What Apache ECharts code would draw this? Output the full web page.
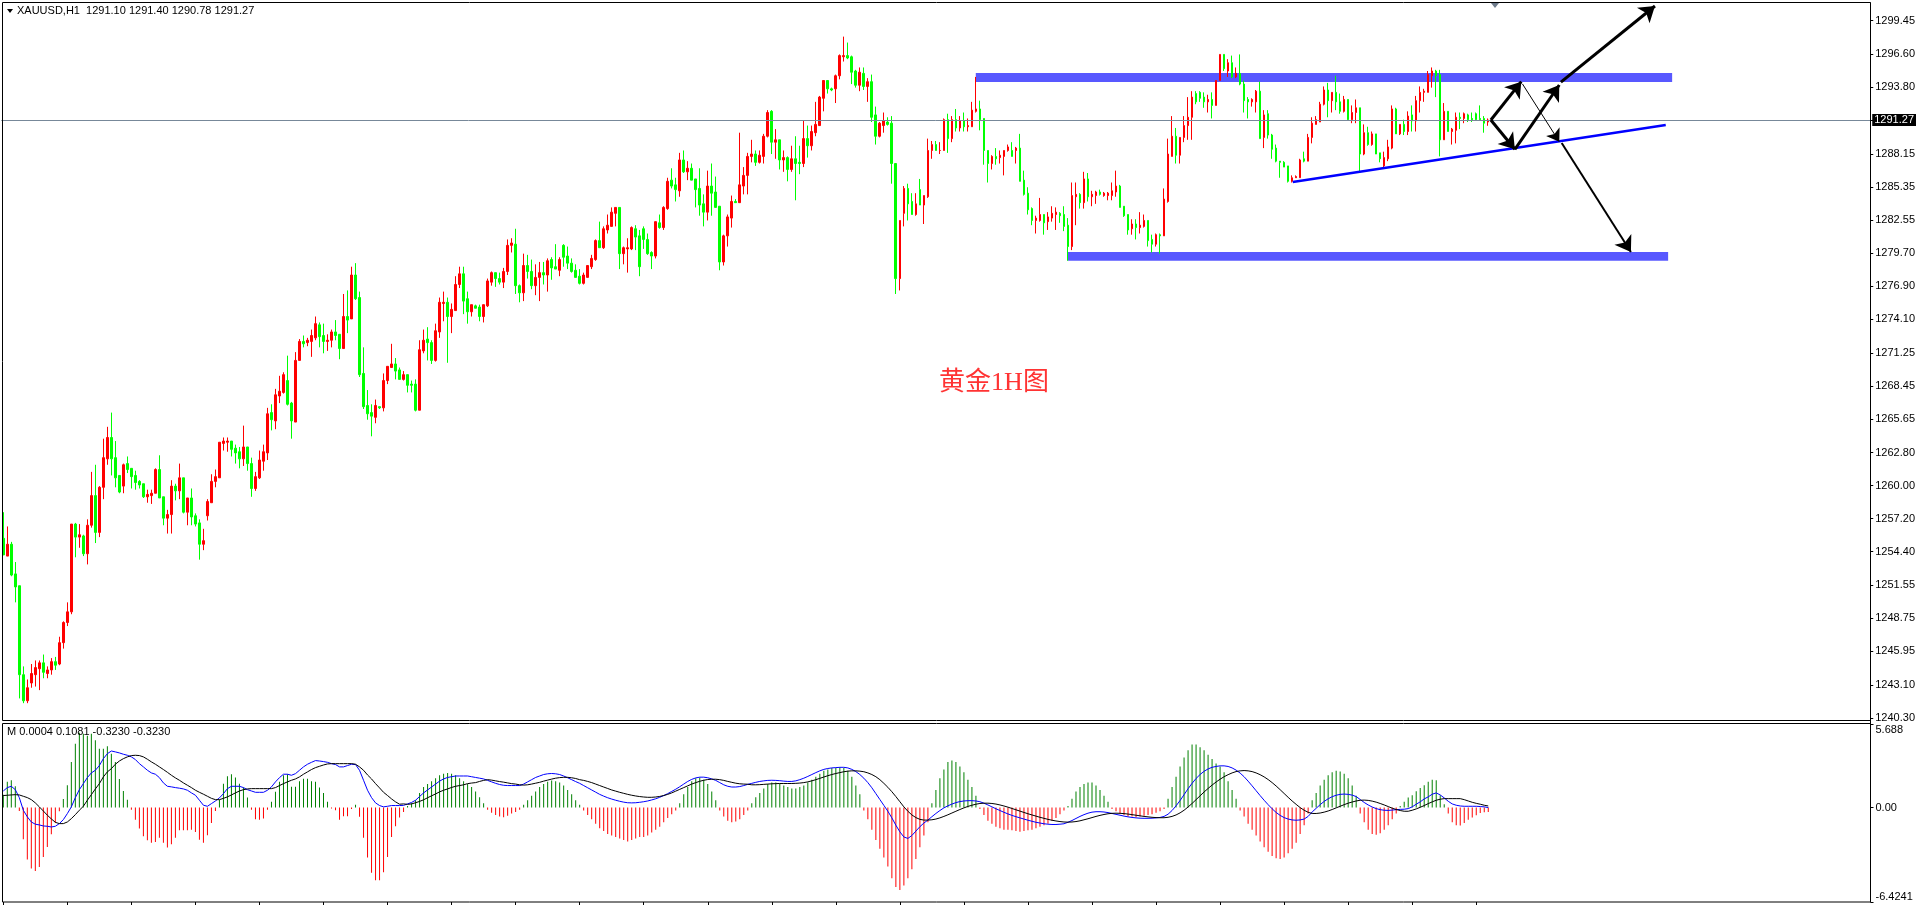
<!DOCTYPE html>
<html>
<head>
<meta charset="utf-8">
<title>XAUUSD H1</title>
<script src="https://cdn.jsdelivr.net/npm/echarts@6/dist/echarts.min.js"></script>
<style>
  html, body { margin: 0; padding: 0; background: #fff; }
  #chart { width: 1918px; height: 906px; }
</style>
</head>
<body>
<div id="chart"></div>
<script>
// texts
const symbolTitle = 'XAUUSD,H1  1291.10 1291.40 1290.78 1291.27';
const macdTitle = 'M 0.0004 0.1081 -0.3230 -0.3230';
const chartLabel = '黄金1H图';
const lastPrice = 1291.27;

// right axis tick labels
const priceTicks = [1240.30, 1243.10, 1245.95, 1248.75, 1251.55, 1254.40, 1257.20, 1260.00, 1262.80, 1265.65, 1268.45,
  1271.25, 1274.10, 1276.90, 1279.70, 1282.55, 1285.35, 1288.15, 1291.00, 1293.80, 1296.60, 1299.45];
const macdTicks = [-6.4241, 0, 5.688];
const macdTickLabels = ['-6.4241', '0.00', '5.688'];

// hourly bars: [open, high, low, close]
const bars = [
  [1256.0,1258.2,1254.6,1254.6],[1254.5,1257.0,1254.5,1255.5],[1255.5,1255.7,1252.8,1252.9],[1253.0,1254.0,1250.6,1251.9],
  [1252.0,1252.0,1242.5,1244.5],[1244.5,1245.2,1242.1,1242.3],[1242.3,1244.1,1242.1,1243.4],[1243.8,1245.4,1243.4,1244.6],
  [1244.5,1245.7,1243.5,1245.1],[1245.0,1245.7,1243.2,1245.5],[1245.5,1246.2,1244.2,1244.7],[1244.6,1245.2,1244.2,1244.9],
  [1244.9,1245.9,1244.5,1245.6],[1245.6,1246.0,1244.9,1245.3],[1245.4,1247.7,1245.3,1247.2],[1247.2,1249.0,1246.7,1248.9],
  [1248.9,1250.6,1248.6,1249.8],[1249.8,1257.2,1249.6,1257.2],[1257.2,1257.3,1254.4,1256.1],[1256.1,1257.2,1255.2,1256.3],
  [1256.2,1256.3,1254.5,1254.7],[1254.7,1257.6,1253.8,1257.1],[1257.1,1261.6,1256.9,1259.6],[1259.6,1262.2,1255.6,1256.5],
  [1256.5,1260.4,1256.1,1260.3],[1260.3,1264.4,1259.3,1262.8],[1262.7,1265.4,1262.2,1264.5],[1264.5,1266.6,1261.3,1262.7],
  [1262.8,1264.2,1260.3,1261.1],[1261.3,1261.3,1259.8,1259.9],[1260.4,1262.3,1259.8,1262.2],[1262.3,1262.9,1261.5,1261.8],
  [1261.9,1261.9,1260.2,1261.2],[1261.3,1261.7,1260.1,1260.7],[1260.8,1260.9,1260.2,1260.5],[1260.6,1260.6,1259.4,1259.5],
  [1259.5,1260.1,1259.0,1259.7],[1259.6,1260.1,1258.9,1259.8],[1259.8,1261.9,1259.8,1261.8],[1261.8,1263.0,1259.4,1259.4],
  [1259.5,1259.5,1257.1,1257.7],[1257.7,1258.4,1256.4,1258.0],[1258.0,1260.9,1256.4,1260.4],[1260.4,1260.6,1259.2,1260.0],
  [1260.0,1262.3,1259.3,1261.1],[1261.1,1261.1,1258.1,1258.2],[1258.2,1259.4,1257.1,1259.4],[1259.4,1260.2,1257.1,1257.8],
  [1257.9,1258.1,1257.0,1257.2],[1257.3,1257.6,1254.2,1255.5],[1255.5,1256.8,1255.0,1255.8],[1257.9,1259.3,1257.5,1259.1],
  [1259.0,1261.4,1259.0,1260.8],[1260.8,1261.8,1260.3,1261.2],[1261.1,1264.1,1261.1,1264.1],[1264.0,1264.5,1263.4,1264.2],
  [1264.1,1264.5,1263.3,1264.2],[1264.2,1264.2,1262.9,1263.5],[1263.6,1263.9,1262.3,1263.2],[1263.3,1263.7,1261.9,1262.7],
  [1262.7,1265.5,1262.1,1263.7],[1263.7,1263.7,1261.7,1262.3],[1262.3,1262.8,1259.5,1260.2],[1260.2,1261.6,1260.0,1261.2],
  [1261.1,1263.4,1261.0,1262.6],[1262.5,1263.9,1261.7,1263.3],[1263.2,1267.0,1262.6,1266.5],[1266.6,1267.3,1265.1,1266.0],
  [1265.9,1268.6,1265.2,1268.1],[1268.0,1269.7,1267.4,1268.4],[1268.3,1270.0,1268.2,1269.8],[1269.3,1271.4,1267.2,1267.3],
  [1267.4,1267.5,1264.4,1265.9],[1265.8,1271.7,1265.8,1271.0],[1271.0,1272.8,1271.0,1272.6],[1272.6,1273.1,1272.1,1272.4],
  [1272.5,1272.9,1272.2,1272.7],[1272.6,1273.6,1271.3,1273.1],[1272.9,1274.7,1272.7,1274.1],[1274.0,1274.2,1272.1,1273.0],
  [1273.1,1274.1,1271.6,1272.6],[1272.6,1273.2,1271.8,1272.7],[1272.7,1273.6,1272.1,1273.4],[1273.4,1274.4,1272.7,1273.1],
  [1273.2,1273.2,1271.1,1272.0],[1272.0,1276.6,1272.0,1274.7],[1274.7,1276.9,1273.3,1274.4],[1274.5,1278.9,1274.5,1278.2],
  [1278.2,1279.2,1276.1,1276.2],[1276.3,1276.8,1269.6,1269.8],[1269.9,1272.1,1266.9,1267.1],[1267.2,1268.5,1266.0,1266.5],
  [1266.6,1267.3,1264.6,1266.3],[1266.2,1267.7,1265.7,1267.2],[1267.1,1267.1,1266.9,1267.0],[1267.0,1269.9,1266.7,1269.3],
  [1269.3,1270.5,1269.0,1270.5],[1270.4,1272.4,1270.4,1270.7],[1270.7,1271.2,1269.4,1270.1],[1270.2,1270.4,1269.4,1269.4],
  [1269.4,1270.1,1269.3,1269.8],[1269.8,1269.8,1268.3,1268.9],[1269.0,1269.3,1268.3,1268.9],[1269.0,1269.4,1266.7,1266.8],
  [1266.8,1272.7,1266.8,1271.9],[1271.8,1273.6,1271.6,1272.7],[1272.8,1273.8,1271.0,1272.5],[1272.5,1272.7,1270.7,1271.0],
  [1271.0,1274.1,1270.9,1273.5],[1273.4,1276.3,1272.9,1275.9],[1275.8,1276.8,1274.3,1275.9],[1275.9,1276.3,1270.8,1274.7],
  [1274.7,1275.8,1273.3,1275.3],[1275.2,1278.1,1275.2,1277.4],[1277.4,1278.9,1277.1,1278.3],[1278.3,1278.9,1274.9,1276.0],
  [1276.2,1276.8,1274.1,1275.1],[1275.1,1275.7,1274.7,1275.7],[1275.6,1275.7,1275.4,1275.4],[1275.5,1275.7,1274.3,1274.7],
  [1274.7,1275.7,1274.2,1275.7],[1275.6,1277.9,1275.5,1277.7],[1277.6,1278.5,1277.3,1278.4],[1278.4,1278.4,1277.2,1277.9],
  [1277.9,1278.4,1277.4,1277.6],[1277.6,1278.8,1277.1,1278.5],[1278.5,1281.2,1278.2,1280.7],[1280.7,1281.3,1280.1,1280.9],
  [1280.8,1282.1,1276.6,1277.3],[1277.3,1277.4,1275.9,1276.7],[1276.7,1280.0,1276.0,1279.0],[1279.0,1279.9,1277.9,1278.5],
  [1278.5,1279.5,1277.0,1277.3],[1277.3,1279.1,1276.5,1278.0],[1278.0,1279.3,1276.0,1278.4],[1278.4,1279.3,1277.4,1278.2],
  [1278.2,1279.6,1276.8,1279.4],[1279.5,1279.7,1277.8,1278.8],[1278.9,1280.8,1278.7,1278.7],[1278.6,1279.7,1278.1,1279.5],
  [1280.7,1280.8,1278.9,1279.7],[1279.8,1280.6,1278.7,1279.2],[1279.2,1279.6,1278.4,1278.5],[1278.6,1279.1,1278.0,1278.0],
  [1278.1,1278.7,1277.4,1277.5],[1277.5,1278.4,1277.4,1278.2],[1278.0,1279.0,1278.0,1279.0],[1278.9,1279.9,1278.7,1279.6],
  [1279.5,1281.2,1279.4,1281.1],[1281.1,1282.7,1280.5,1280.5],[1280.5,1282.3,1280.4,1282.1],[1282.0,1283.3,1281.7,1282.4],
  [1282.3,1283.9,1282.3,1283.5],[1283.4,1283.9,1282.3,1283.9],[1283.9,1283.9,1278.7,1280.0],[1280.0,1280.6,1279.1,1280.5],
  [1280.4,1281.3,1278.4,1280.5],[1280.4,1282.3,1280.3,1282.2],[1282.1,1282.4,1280.3,1281.4],[1281.5,1282.0,1278.1,1278.9],
  [1282.1,1282.3,1280.4,1281.2],[1281.2,1281.7,1279.9,1280.0],[1280.1,1280.2,1278.7,1279.8],[1279.8,1282.7,1279.6,1282.7],
  [1282.6,1283.3,1282.1,1282.2],[1282.2,1284.0,1282.0,1283.9],[1283.8,1286.4,1283.7,1286.1],[1286.2,1287.2,1285.5,1285.7],
  [1285.8,1286.4,1284.4,1285.4],[1285.3,1288.5,1284.8,1287.9],[1287.9,1288.7,1286.8,1286.9],[1286.9,1287.8,1286.2,1287.2],
  [1287.2,1287.6,1286.2,1286.2],[1286.3,1286.3,1283.9,1285.4],[1285.5,1287.2,1283.2,1284.1],[1284.2,1285.0,1282.3,1283.5],
  [1283.5,1287.0,1282.8,1285.7],[1285.7,1287.6,1283.2,1285.1],[1285.2,1286.5,1283.9,1283.9],[1284.0,1284.0,1278.6,1279.3],
  [1279.3,1281.6,1279.0,1281.5],[1281.5,1283.3,1280.6,1283.1],[1283.0,1284.9,1282.2,1284.4],[1284.4,1284.6,1284.3,1284.3],
  [1284.3,1290.2,1284.3,1285.8],[1285.7,1287.3,1285.0,1286.6],[1286.6,1288.5,1285.0,1288.2],[1288.2,1289.6,1287.7,1288.4],
  [1288.4,1288.7,1287.4,1287.7],[1287.7,1288.7,1287.6,1288.3],[1288.2,1290.1,1287.6,1289.9],[1289.9,1292.1,1289.8,1291.9],
  [1292.0,1292.1,1288.4,1289.4],[1289.4,1290.5,1288.0,1289.6],[1289.6,1289.6,1287.1,1287.9],[1287.9,1288.7,1286.9,1288.1],
  [1288.1,1288.2,1286.1,1287.1],[1287.1,1289.1,1286.9,1288.0],[1288.0,1289.9,1284.5,1287.6],[1287.7,1289.1,1286.7,1287.6],
  [1287.6,1291.2,1287.3,1289.7],[1289.7,1290.8,1288.1,1289.1],[1289.1,1290.8,1288.7,1290.3],[1290.2,1292.8,1289.9,1290.9],
  [1290.8,1293.3,1290.8,1293.2],[1293.1,1294.6,1292.0,1294.6],[1294.6,1294.6,1293.5,1293.9],[1293.9,1294.0,1293.7,1293.8],
  [1293.9,1295.1,1292.7,1295.0],[1295.0,1296.8,1294.7,1296.7],[1296.6,1298.3,1296.2,1296.7],[1296.7,1297.8,1296.4,1296.5],
  [1296.6,1296.7,1294.3,1295.3],[1295.4,1295.5,1294.0,1294.2],[1294.2,1295.7,1293.7,1295.3],[1295.2,1295.7,1293.8,1294.1],
  [1294.1,1294.8,1292.8,1294.5],[1294.5,1295.1,1291.1,1291.5],[1291.7,1292.4,1289.2,1289.9],[1289.9,1291.1,1289.8,1291.0],
  [1290.8,1291.9,1290.2,1291.2],[1291.1,1291.5,1290.8,1290.9],[1291.0,1291.6,1285.9,1287.6],[1287.6,1287.6,1276.6,1277.9],
  [1277.9,1282.8,1276.9,1282.8],[1283.4,1285.7,1282.3,1285.5],[1285.5,1285.9,1282.8,1284.2],[1284.4,1285.1,1283.3,1283.3],
  [1283.3,1285.1,1283.2,1284.2],[1285.4,1286.3,1284.1,1284.1],[1284.1,1284.9,1282.5,1284.9],[1284.8,1289.7,1284.7,1288.7],
  [1288.7,1289.5,1288.0,1289.2],[1289.2,1289.5,1288.7,1288.7],[1288.7,1289.4,1288.4,1288.7],[1288.7,1291.4,1288.7,1291.3],
  [1291.3,1291.8,1288.5,1289.7],[1289.7,1291.6,1289.4,1291.3],[1291.3,1292.2,1290.3,1290.6],[1290.6,1291.6,1290.3,1291.2],
  [1291.2,1291.9,1290.3,1290.7],[1290.7,1291.4,1290.3,1290.8],[1290.7,1292.8,1290.7,1292.1],[1292.0,1294.9,1291.9,1292.2],
  [1292.2,1292.9,1290.4,1291.3],[1291.4,1291.4,1287.5,1288.7],[1288.7,1288.7,1286.0,1287.6],[1287.6,1288.3,1287.1,1288.2],
  [1288.2,1288.9,1287.5,1288.0],[1288.1,1288.7,1287.6,1288.3],[1288.2,1288.7,1286.6,1288.7],[1288.7,1289.2,1288.6,1289.0],
  [1288.7,1289.4,1288.2,1288.2],[1288.7,1289.0,1287.6,1288.9],[1288.9,1290.1,1286.1,1286.1],[1286.2,1287.0,1284.9,1285.0],
  [1285.1,1285.6,1283.3,1283.7],[1283.8,1283.9,1282.4,1282.8],[1282.8,1283.2,1281.7,1283.0],[1282.8,1284.7,1282.7,1283.3],
  [1283.3,1283.3,1281.6,1282.6],[1282.7,1283.5,1282.0,1283.1],[1283.0,1284.0,1282.7,1283.4],[1283.3,1283.9,1282.0,1283.5],
  [1283.4,1283.5,1282.6,1283.2],[1283.3,1284.0,1281.9,1282.3],[1282.4,1283.0,1279.4,1280.6],[1280.6,1286.0,1280.3,1284.9],
  [1284.8,1286.0,1282.4,1285.0],[1285.0,1285.1,1283.8,1284.3],[1284.3,1286.9,1283.8,1286.3],[1286.3,1286.8,1284.4,1284.8],
  [1284.8,1285.3,1284.0,1285.0],[1284.9,1285.3,1284.2,1285.2],[1285.2,1285.4,1284.9,1285.0],[1284.9,1285.2,1284.8,1285.1],
  [1284.9,1285.2,1284.5,1285.1],[1284.9,1286.0,1284.5,1285.3],[1285.2,1287.0,1284.8,1285.7],[1285.7,1285.8,1283.9,1283.9],
  [1284.0,1284.0,1283.1,1283.2],[1283.3,1283.3,1281.6,1282.0],[1282.1,1282.9,1281.6,1282.5],[1282.5,1282.9,1281.2,1282.2],
  [1282.2,1283.5,1281.7,1282.4],[1282.3,1283.3,1282.2,1282.8],[1282.8,1282.8,1280.6,1281.1],[1281.2,1281.6,1280.1,1280.8],
  [1280.8,1281.7,1280.6,1281.6],[1281.6,1281.7,1280.0,1281.5],[1281.5,1285.5,1281.5,1284.6],[1284.4,1289.7,1284.3,1288.4],
  [1288.2,1291.6,1288.2,1289.9],[1289.9,1290.6,1287.6,1288.3],[1288.3,1289.8,1287.6,1289.8],[1289.8,1291.6,1289.4,1290.8],
  [1290.8,1293.2,1289.6,1291.5],[1291.5,1293.7,1289.6,1293.2],[1293.5,1293.7,1292.6,1292.8],[1293.6,1293.7,1292.8,1293.1],
  [1293.2,1293.6,1292.3,1292.8],[1292.8,1293.4,1291.9,1293.0],[1293.0,1293.6,1291.4,1292.5],[1292.5,1294.6,1292.5,1294.6],
  [1294.6,1296.8,1294.6,1296.8],[1296.8,1296.8,1295.4,1295.6],[1295.4,1296.4,1294.9,1296.1],[1296.1,1296.7,1294.8,1294.9],
  [1294.9,1295.7,1294.8,1295.2],[1295.2,1296.8,1294.2,1294.3],[1294.3,1294.6,1291.9,1292.9],[1293.0,1293.2,1291.4,1292.8],
  [1292.8,1293.1,1292.4,1293.0],[1292.8,1293.8,1291.9,1293.7],[1293.7,1294.5,1289.7,1289.7],[1289.8,1292.1,1288.9,1291.7],
  [1291.8,1292.1,1289.7,1290.0],[1290.0,1290.1,1288.0,1288.8],[1288.9,1289.2,1287.7,1287.8],[1287.8,1287.8,1286.4,1287.7],
  [1287.7,1287.8,1287.3,1287.3],[1287.4,1287.4,1286.0,1286.1],[1286.1,1286.6,1286.0,1286.4],[1286.4,1286.6,1286.4,1286.5],
  [1286.4,1288.0,1286.4,1287.9],[1288.0,1288.6,1287.7,1287.8],[1287.8,1290.1,1287.8,1289.8],[1289.8,1291.5,1289.3,1291.0],
  [1290.9,1291.6,1290.9,1291.3],[1291.1,1292.8,1291.1,1292.6],[1292.6,1294.1,1292.5,1293.8],[1293.8,1294.4,1291.5,1292.9],
  [1292.9,1293.6,1291.9,1293.6],[1293.6,1295.0,1292.1,1292.8],[1292.8,1293.5,1291.8,1292.0],[1292.0,1293.3,1291.9,1293.0],
  [1293.0,1293.0,1291.2,1291.3],[1291.3,1292.5,1291.0,1291.9],[1291.9,1293.0,1291.0,1292.3],[1292.3,1292.3,1286.9,1288.4],
  [1288.4,1290.9,1288.3,1290.2],[1290.2,1290.7,1289.1,1289.2],[1289.2,1290.3,1289.1,1290.1],[1290.1,1290.1,1288.4,1288.4],
  [1288.5,1288.5,1287.7,1288.0],[1287.4,1288.6,1287.2,1288.1],[1288.0,1289.6,1287.8,1289.0],[1288.9,1292.5,1288.8,1292.2],
  [1292.2,1292.3,1290.1,1290.1],[1290.1,1290.9,1290.0,1290.9],[1290.9,1291.3,1290.0,1290.3],[1290.3,1292.0,1290.0,1291.6],
  [1291.7,1292.5,1290.3,1291.2],[1291.2,1293.3,1290.3,1292.9],[1292.9,1294.1,1291.9,1293.6],[1293.6,1293.9,1292.8,1293.7],
  [1293.6,1295.4,1293.6,1295.1],[1295.0,1295.7,1294.0,1295.4],[1295.4,1295.5,1293.2,1295.0],[1295.1,1295.5,1288.2,1289.6],
  [1289.6,1292.7,1289.6,1292.0],[1292.0,1292.0,1290.3,1290.3],[1290.3,1290.6,1289.2,1290.5],[1290.4,1291.9,1289.3,1291.5],
  [1291.5,1291.9,1290.5,1291.4],[1291.4,1291.9,1291.0,1291.8],[1291.7,1291.8,1291.1,1291.3],[1291.4,1291.9,1291.1,1291.3],
  [1291.8,1291.9,1291.2,1291.3],[1291.4,1292.5,1291.2,1291.3],[1291.4,1291.6,1290.2,1291.0],[1291.10,1291.40,1290.78,1291.27]
];

// MACD panel values per bar (histogram, blue line, black line)
const macdHist = [
  0.88,1.75,1.86,1.45,-0.23,-2.15,-3.54,-4.15,-4.31,-4.04,-3.36,-2.68,-1.81,-1.04,-0.25,
  0.59,1.52,3.11,4.35,5.10,5.03,4.88,5.03,4.58,4.01,4.01,4.17,3.67,3.11,1.95,1.13,0.54,
  -0.14,-0.82,-1.43,-1.95,-2.22,-2.40,-2.34,-2.06,-2.40,-2.72,-2.49,-2.06,-1.54,-1.54,-1.54,-1.50,-1.66,-2.18,-2.40,-1.88,-1.04,-0.23,
  0.54,1.63,2.13,2.27,2.04,1.63,1.36,0.68,-0.14,-0.79,-0.82,-0.75,-0.14,
  0.39,1.07,1.75,2.20,2.27,1.41,1.41,1.79,1.97,1.97,1.79,1.75,1.36,1.00,0.39,
  -0.07,-0.18,-0.82,-0.59,-0.59,-0.09,0.20,-0.63,-2.06,-3.40,-4.44,-4.94,-4.94,-4.40,-3.36,-2.00,-1.27,-0.68,
  -0.3,0.1,0.3,0.5,1.0,1.4,1.6,1.8,2.0,2.2,2.3,2.35,2.3,2.2,2.0,1.8,1.6,1.4,1.1,0.7,0.3,
  -0.15,-0.35,-0.5,-0.6,-0.65,-0.55,-0.4,-0.3,-0.15,
  0.2,0.5,0.8,1.1,1.4,1.6,1.75,1.85,1.8,1.7,1.5,1.2,0.9,0.5,0.2,
  -0.2,-0.5,-0.8,-1.1,-1.4,-1.6,-1.8,-1.9,-2.0,-2.1,-2.2,-2.3,-2.2,-2.1,-2.0,-2.0,-1.9,-1.7,-1.5,-1.3,-1.0,-0.7,-0.45,-0.2,
  0.3,0.9,1.4,1.8,2.0,2.05,1.9,1.6,1.1,0.5,
  -0.2,-0.6,-0.9,-1.0,-0.95,-0.8,-0.5,-0.2,
  0.3,0.7,1.0,1.3,1.6,1.7,1.7,1.6,1.5,1.4,1.3,1.3,1.4,1.5,1.7,
  1.9,2.1,2.3,2.5,2.6,2.7,2.7,2.75,2.7,2.5,2.1,1.5,0.9,
  -0.2,-0.8,-1.5,-2.2,-2.8,-3.4,-4.0,-4.8,-5.4,-5.6,-5.3,-4.8,-4.2,-3.5,-2.7,-1.9,-1.0,
  0.3,1.2,2.0,2.6,3.1,3.2,3.1,2.8,2.4,1.9,1.4,0.8,
  -0.1,-0.5,-0.9,-1.1,-1.3,-1.4,-1.5,-1.5,-1.55,-1.6,-1.65,-1.6,-1.55,-1.5,-1.4,-1.3,-1.2,-1.1,-0.9,-0.7,-0.45,-0.2,
  0.1,0.6,1.1,1.4,1.6,1.7,1.7,1.5,1.2,0.8,0.4,
  -0.1,-0.25,-0.4,-0.5,-0.6,-0.6,-0.65,-0.6,-0.55,-0.5,-0.45,-0.35,-0.25,-0.1,
  0.6,1.4,2.1,2.8,3.4,3.9,4.3,4.3,4.1,3.9,3.6,3.3,3.0,2.8,2.4,1.8,1.2,0.6,
  -0.2,-0.6,-1.1,-1.5,-1.9,-2.3,-2.7,-3.0,-3.3,-3.45,-3.5,-3.4,-3.1,-2.8,-2.4,-1.8,-1.2,-0.4,
  0.5,1.0,1.5,1.9,2.2,2.4,2.5,2.45,2.3,2.0,1.5,0.8,
  -0.4,-1.0,-1.5,-1.8,-1.85,-1.75,-1.5,-1.2,-0.8,-0.4,0.1,
  0.39,0.68,0.84,1.11,1.34,1.52,1.75,1.90,1.86,0.84,0.23,
  -0.41,-1.00,-1.20,-1.22,-1.04,-0.82,-0.68,-0.52,-0.36,-0.32,-0.30
];
const macdBlue = [
  1.13,1.36,1.45,1.22,0.68,-0.18,-0.63,-0.98,-1.13,-1.18,-1.25,-1.27,-1.32,-1.27,-1.09,-0.82,-0.41,0.05,0.68,1.22,
  1.63,2.04,2.36,2.54,2.86,3.33,3.67,3.85,3.79,3.72,3.63,3.56,3.45,3.27,2.99,2.77,2.54,2.36,2.27,2.04,
  1.68,1.45,1.41,1.36,1.32,1.27,1.18,1.00,0.84,0.50,0.16,0.09,0.27,0.45,0.66,0.95,1.29,1.45,1.45,1.45,
  1.36,1.22,1.13,1.04,1.04,1.04,1.18,1.41,1.75,2.04,2.27,2.27,2.20,2.31,2.54,2.77,2.95,3.08,3.20,3.17,
  3.13,3.08,2.99,2.93,2.77,2.77,2.86,2.95,2.93,2.54,1.86,1.18,0.68,0.32,0.14,0.05,0.09,0.14,0.14,0.14,
  0.15,0.25,0.35,0.5,0.75,1.0,1.2,1.4,1.6,1.8,1.95,2.05,2.1,2.15,2.15,2.15,2.15,2.1,2.05,2.0,1.95,
  1.85,1.75,1.65,1.57,1.52,1.5,1.5,1.5,1.5,
  1.6,1.75,1.9,2.05,2.15,2.25,2.3,2.32,2.3,2.25,2.15,2.03,1.9,1.77,1.65,
  1.5,1.35,1.2,1.05,0.9,0.78,0.67,0.58,0.5,0.43,0.37,0.33,0.32,0.33,0.36,0.4,0.45,0.52,0.6,0.7,0.82,0.95,1.1,1.25,
  1.42,1.6,1.78,1.92,2.02,2.07,2.07,2.03,1.95,1.85,
  1.7,1.55,1.45,1.4,1.4,1.43,1.5,1.58,
  1.65,1.72,1.78,1.82,1.85,1.86,1.85,1.83,1.8,1.78,1.78,1.82,1.9,2.0,2.12,
  2.25,2.38,2.5,2.6,2.66,2.7,2.72,2.74,2.74,2.7,2.6,2.45,2.25,
  2.0,1.7,1.35,0.95,0.55,0.15,-0.25,-0.7,-1.2,-1.65,-2.0,-2.1,-1.9,-1.6,-1.3,-1.05,-0.85,
  -0.62,-0.4,-0.2,-0.02,0.12,0.24,0.34,0.41,0.45,0.47,0.47,0.45,
  0.4,0.3,0.18,0.05,-0.08,-0.2,-0.32,-0.43,-0.53,-0.62,-0.7,-0.78,-0.86,-0.93,-1.0,-1.05,-1.1,-1.13,-1.15,-1.15,-1.13,-1.1,
  -1.0,-0.88,-0.74,-0.6,-0.48,-0.38,-0.31,-0.28,-0.28,-0.3,-0.34,
  -0.4,-0.46,-0.52,-0.58,-0.63,-0.67,-0.7,-0.72,-0.73,-0.73,-0.72,-0.7,-0.67,-0.6,
  -0.45,-0.2,0.12,0.48,0.88,1.28,1.65,1.98,2.25,2.47,2.63,2.74,2.8,2.84,2.84,2.8,2.7,2.55,
  2.35,2.1,1.8,1.48,1.15,0.82,0.5,0.2,-0.08,-0.33,-0.53,-0.68,-0.78,-0.84,-0.86,-0.84,-0.78,-0.6,
  -0.3,-0.05,0.2,0.42,0.6,0.74,0.84,0.9,0.92,0.9,0.85,0.75,0.55,0.35,0.18,0.04,-0.07,-0.14,-0.18,-0.19,-0.17,-0.14,-0.12,
  -0.11,-0.07,0.05,0.23,0.39,0.59,0.73,0.91,1.00,0.86,0.66,0.43,0.25,0.16,0.11,0.09,0.09,0.09,0.09,0.07,0.05,0.00
];
const macdBlack = [
  0.82,0.84,0.86,0.88,0.86,0.77,0.68,0.54,0.32,0.05,-0.23,-0.52,-0.77,-1.00,-1.09,-1.09,-0.98,-0.75,-0.48,-0.18,
  0.09,0.50,0.88,1.27,1.63,2.09,2.43,2.65,2.95,3.17,3.33,3.45,3.54,3.56,3.54,3.45,3.29,3.11,2.95,2.77,
  2.59,2.40,2.20,2.02,1.86,1.68,1.52,1.36,1.18,1.04,0.91,0.77,0.63,0.54,0.54,0.63,0.73,0.86,1.00,1.13,
  1.22,1.27,1.29,1.29,1.29,1.29,1.29,1.29,1.36,1.50,1.63,1.75,1.86,1.95,2.09,2.27,2.43,2.59,2.72,2.81,
  2.90,2.97,2.99,2.99,2.99,2.99,2.99,2.99,2.95,2.77,2.54,2.22,1.95,1.63,1.34,1.04,0.82,0.59,0.39,0.23,
  0.25,0.22,0.25,0.33,0.42,0.53,0.67,0.8,0.93,1.07,1.18,1.27,1.37,1.45,1.5,1.55,1.63,1.67,1.7,1.78,1.85,
  1.9,1.87,1.82,1.77,1.73,1.68,1.63,1.6,1.55,
  1.53,1.55,1.6,1.66,1.72,1.8,1.87,1.94,2.0,2.04,2.06,2.06,2.03,1.98,1.9,
  1.85,1.78,1.7,1.6,1.5,1.4,1.3,1.2,1.12,1.04,0.97,0.9,0.84,0.79,0.75,0.72,0.7,0.7,0.72,0.76,0.82,0.9,1.0,1.12,
  1.24,1.36,1.48,1.6,1.7,1.79,1.86,1.91,1.93,1.93,
  1.9,1.85,1.78,1.72,1.66,1.62,1.6,1.59,
  1.55,1.55,1.56,1.58,1.6,1.62,1.63,1.64,1.64,1.64,1.64,1.65,1.67,1.7,1.75,
  1.82,1.9,1.99,2.08,2.17,2.25,2.32,2.38,2.44,2.48,2.5,2.5,2.48,
  2.44,2.36,2.25,2.1,1.9,1.65,1.38,1.08,0.75,0.4,0.05,-0.25,-0.5,-0.68,-0.8,-0.85,-0.85,
  -0.83,-0.78,-0.7,-0.6,-0.49,-0.37,-0.25,-0.13,-0.02,0.08,0.16,0.23,
  0.28,0.3,0.3,0.28,0.24,0.18,0.11,0.03,-0.06,-0.15,-0.24,-0.33,-0.42,-0.5,-0.58,-0.66,-0.73,-0.8,-0.86,-0.91,-0.95,-0.98,
  -0.99,-0.98,-0.95,-0.9,-0.83,-0.76,-0.68,-0.6,-0.53,-0.47,-0.42,
  -0.39,-0.38,-0.39,-0.41,-0.44,-0.48,-0.52,-0.56,-0.6,-0.63,-0.66,-0.68,-0.69,-0.69,
  -0.66,-0.6,-0.5,-0.36,-0.18,0.04,0.28,0.54,0.8,1.06,1.3,1.53,1.74,1.93,2.1,2.24,2.36,2.45,
  2.5,2.52,2.5,2.45,2.36,2.24,2.09,1.91,1.7,1.47,1.22,0.96,0.7,0.45,0.22,0.0,-0.18,-0.32,
  -0.4,-0.4,-0.37,-0.31,-0.23,-0.13,-0.02,0.09,0.2,0.3,0.38,0.45,0.5,0.51,0.49,0.44,0.37,0.28,0.18,0.07,-0.04,-0.13,-0.2,
  -0.25,-0.25,-0.18,-0.09,0.02,0.14,0.27,0.39,0.50,0.57,0.61,0.61,0.61,0.61,0.61,0.54,0.45,0.36,0.29,0.23,0.16,0.11
];

// drawn objects: zones [fromBar, toBar, top, bottom], trend line, arrows [[bar,price],[bar,price],width]
const zones = [[243, 417, 1295.23, 1294.47], [266, 416, 1280.14, 1279.40]];
const trendLine = [[322.2, 1286.05], [415.4, 1290.85]];
const arrows = [
  [[371.7, 1291.27], [379.3, 1294.50], 3],
  [[371.7, 1291.27], [377.7, 1288.80], 3],
  [[377.7, 1288.80], [388.8, 1294.22], 3],
  [[389.2, 1294.47], [412.7, 1300.88], 3],
  [[379.6, 1294.31], [388.8, 1289.44], 1],
  [[389.4, 1289.33], [406.7, 1280.14], 2]
];

const slotCount = 467;
const cats = Array.from({ length: slotCount }, (_, i) => String(i));
const FONT = "'Liberation Sans Narrow', 'Liberation Sans', Arial, sans-serif";

const chart = echarts.init(document.getElementById('chart'));

chart.setOption({
  animation: false,
  backgroundColor: '#fff',
  grid: [
    { left: 1.3, right: 47.5, top: 3, height: 724 },
    { left: 1.3, right: 47.5, top: 724, height: 178 }
  ],
  xAxis: [
    { type: 'category', gridIndex: 0, data: cats, show: false },
    { type: 'value', gridIndex: 0, min: -0.5, max: slotCount - 0.5, show: false },
    {
      type: 'category', gridIndex: 1, data: cats,
      axisLine: { show: false, onZero: false },
      axisTick: {
        show: true, alignWithLabel: true, length: 3,
        interval: (i) => i % 16 === 0 && i < bars.length,
        lineStyle: { color: '#000' }
      },
      axisLabel: { show: false }
    }
  ],
  yAxis: [
    // price scale used by the candles
    { type: 'value', gridIndex: 0, position: 'right', min: 1240.09, max: 1301.135, show: false },
    {
      type: 'value', gridIndex: 1, position: 'right',
      min: -6.4241, max: 5.688,
      splitLine: { show: false },
      axisLine: { show: true, lineStyle: { color: '#000' } },
      axisTick: { show: true, length: 3, customValues: macdTicks, lineStyle: { color: '#000' } },
      axisLabel: {
        customValues: macdTicks,
        formatter: (v) => macdTickLabels[macdTicks.indexOf(v)],
        showMinLabel: true, showMaxLabel: true,
        verticalAlignMinLabel: 'bottom', verticalAlignMaxLabel: 'top',
        color: '#000', fontSize: 11, fontFamily: FONT, margin: 5
      }
    },
    // terminal style price labels, drawn a little above their levels like the platform does
    {
      type: 'value', gridIndex: 0, position: 'right',
      min: 1239.537, max: 1300.934,
      splitLine: { show: false },
      axisLine: { show: true, lineStyle: { color: '#000' } },
      axisTick: { show: true, length: 3, customValues: priceTicks, lineStyle: { color: '#000' } },
      axisLabel: {
        customValues: priceTicks, formatter: (v) => v.toFixed(2),
        showMinLabel: true, showMaxLabel: true,
        color: '#000', fontSize: 11, fontFamily: FONT, margin: 5
      }
    }
  ],
  series: [
    {
      type: 'candlestick', xAxisIndex: 0, yAxisIndex: 0,
      data: bars.map((b) => [b[0], b[3], b[2], b[1]]),
      barWidth: 2,
      itemStyle: { color: '#ff0000', color0: '#00ff00', borderColor: '#ff0000', borderColor0: '#00ff00', borderWidth: 1 },
      markArea: {
        silent: true,
        itemStyle: { color: '#5858ff', opacity: 1 },
        data: zones.map((z) => [{ xAxis: z[0], yAxis: z[2] }, { xAxis: z[1], yAxis: z[3] }])
      },
      markLine: {
        silent: true, symbol: 'none',
        lineStyle: { color: '#778899', width: 1, type: 'solid' },
        label: {
          position: 'end', distance: 2, formatter: lastPrice.toFixed(2),
          backgroundColor: '#000', color: '#fff', padding: [1, 2, 0, 2],
          fontSize: 11, fontFamily: FONT
        },
        data: [{ yAxis: lastPrice }]
      }
    },
    {
      type: 'lines', coordinateSystem: 'cartesian2d', xAxisIndex: 1, yAxisIndex: 0,
      silent: true, z: 5,
      lineStyle: { opacity: 1 },
      data: [
        {
          coords: trendLine,
          lineStyle: { color: '#0000ff', width: 2.5, opacity: 1 },
          symbol: 'none'
        }
      ].concat(arrows.map((a) => ({
        coords: [a[0], a[1]],
        lineStyle: { color: '#000', width: a[2], opacity: 1 },
        symbol: ['none', 'arrow'],
        symbolSize: a[2] > 1 ? [9, 15] : [7, 12]
      })))
    },
    {
      type: 'bar', xAxisIndex: 2, yAxisIndex: 1, barWidth: 1,
      data: macdHist.map((v) => ({ value: v, itemStyle: { color: v >= 0 ? '#008000' : '#ff0000' } }))
    },
    {
      type: 'line', xAxisIndex: 2, yAxisIndex: 1, data: macdBlue,
      symbol: 'none', lineStyle: { color: '#0000ff', width: 1 }
    },
    {
      type: 'line', xAxisIndex: 2, yAxisIndex: 1, data: macdBlack,
      symbol: 'none', lineStyle: { color: '#000', width: 1 }
    }
  ],
  graphic: [
    { type: 'rect', shape: { x: 2.5, y: 2.5, width: 1868, height: 718 }, style: { fill: 'none', stroke: '#000', lineWidth: 1 }, z: 100 },
    { type: 'rect', shape: { x: 2.5, y: 723.5, width: 1868, height: 178.5 }, style: { fill: 'none', stroke: '#000', lineWidth: 1 }, z: 100 },
    { type: 'polygon', shape: { points: [[7, 9], [13, 9], [10, 13]] }, style: { fill: '#000' }, z: 100 },
    { type: 'polygon', shape: { points: [[1491, 3], [1499, 3], [1495, 8]] }, style: { fill: '#6e7b8b' }, z: 100 },
    { type: 'text', x: 17, y: 11, style: { text: symbolTitle, font: '11px ' + FONT, fill: '#000', textVerticalAlign: 'middle' }, z: 100 },
    { type: 'text', x: 7, y: 732, style: { text: macdTitle, font: '11px ' + FONT, fill: '#000', textVerticalAlign: 'middle' }, z: 100 },
    { type: 'text', x: 994, y: 383, style: { text: chartLabel, font: '26px "Liberation Serif", "Noto Sans CJK SC", serif', fill: '#ff3333', textAlign: 'center', textVerticalAlign: 'middle' }, z: 100 }
  ]
});
</script>
</body>
</html>
